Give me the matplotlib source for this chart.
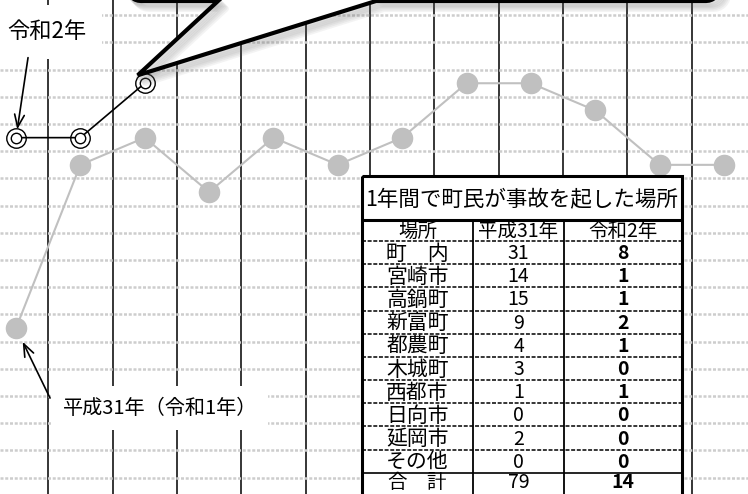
import numpy as np
import matplotlib
matplotlib.use('Agg')
import matplotlib.pyplot as plt
from matplotlib.patches import Polygon, Rectangle
from matplotlib.lines import Line2D
from matplotlib.transforms import IdentityTransform

plt.rcParams['font.family'] = ['Noto Sans CJK JP', 'DejaVu Sans']

# monthly accidents (chart)
months = ['1月', '2月', '3月', '4月', '5月', '6月', '7月', '8月', '9月', '10月', '11月', '12月']
heisei31 = [7, 13, 14, 12, 14, 13, 14, 16, 16, 15, 13, 13]
reiwa2 = [14, 14, 16]

# table: place of accidents caused by town residents
table_title = '1年間で町民が事故を起した場所'
table_head = ['場所', '平成31年', '令和2年']
places = ['町　内', '宮崎市', '高鍋町', '新富町', '都農町', '木城町', '西都市', '日向市', '延岡市', 'その他']
h31_counts = [31, 14, 15, 9, 4, 3, 1, 0, 2, 0]
r2_counts = [8, 1, 1, 2, 1, 0, 1, 0, 0, 0]

W, H = 748, 494
fig = plt.figure(figsize=(W/100, H/100), dpi=100)
ax = fig.add_axes([0, 0, 1, 1])
x = np.arange(len(months))

ax.set_xlim(-0.249, 11.373)
ax.set_ylim(0.90, 19.06)
ax.set_xticks(np.arange(0.5, len(months) - 1, 1))
ax.set_yticks(np.arange(1.5, 19, 1))
ax.tick_params(length=0, labelleft=False, labelbottom=False)
for s in ax.spines.values():
    s.set_visible(False)
ax.set_axisbelow(True)
ax.grid(axis='x', color='black', lw=1.1)
ax.grid(axis='y', color='#cdcdcd', lw=1.8, ls=(0, (1.2, 0.7)))

ax.plot(x, heisei31, color='#c0c0c0', lw=1.5, marker='o', ms=14.5,
        mfc='#c0c0c0', mec='#c0c0c0', zorder=4)
ax.plot(x[:len(reiwa2)], reiwa2, color='black', lw=1.2, marker='o', ms=14,
        mfc='none', mec='black', mew=1.0, zorder=4)
ax.plot(x[:len(reiwa2)], reiwa2, ls='none', marker='o', ms=7.5,
        mfc='white', mec='black', mew=1.0, zorder=4)

# labels with arrows
ax.annotate('令和2年', xy=(0, reiwa2[0]), xytext=(31, 106), textcoords='offset pixels',
            ha='center', va='center', fontsize=16,
            bbox=dict(boxstyle='square,pad=0.7', fc='white', ec='none'), zorder=3)
ax.annotate('', xy=(0, reiwa2[0]), xytext=(12, 80), textcoords='offset pixels',
            arrowprops=dict(arrowstyle='->,head_length=0.9,head_width=0.35', lw=1.2,
                            color='black', shrinkA=0, shrinkB=6), zorder=5)
ax.annotate('平成31年（令和1年）', xy=(0, heisei31[0]), xytext=(144, -80), textcoords='offset pixels',
            ha='center', va='center', fontsize=14.5,
            bbox=dict(boxstyle='square,pad=0.55', fc='white', ec='none'), zorder=3)
ax.annotate('', xy=(0, heisei31[0]), xytext=(34, -70), textcoords='offset pixels',
            arrowprops=dict(arrowstyle='->,head_length=0.9,head_width=0.35', lw=1.2,
                            color='black', shrinkA=0, shrinkB=11), zorder=5)

# speech bubble (bottom part), tail pointing at the last Reiwa 2 point
tx, ty = ax.transData.transform((x[len(reiwa2) - 1], reiwa2[-1]))
tx, ty = tx - 7, ty + 8
L, R, B, T, r = 127, 720, H - 1, H + 40, 14
a1 = np.linspace(np.pi, 1.5*np.pi, 8)
a2 = np.linspace(1.5*np.pi, 2*np.pi, 8)
xs = ([L] + list(L + r + r*np.cos(a1)) + [218, tx, 376] +
      list(R - r + r*np.cos(a2)) + [R])
ys = ([T] + list(B + r + r*np.sin(a1)) + [B, ty, B] +
      list(B + r + r*np.sin(a2)) + [T])
xs, ys = np.array(xs), np.array(ys)
ax.add_patch(Polygon(np.column_stack([xs, ys]), closed=True, fc='white', ec='none',
                     transform=IdentityTransform(), zorder=6))
for k in range(1, 7):
    ax.add_line(Line2D(xs + 1.3*k, ys - 1.3*k, color='#606060', alpha=0.07, lw=4.5,
                       transform=IdentityTransform(), zorder=6.5))
ax.add_line(Line2D(xs, ys, color='black', lw=3.0, solid_joinstyle='miter',
                   transform=IdentityTransform(), zorder=7))

# table
tax = fig.add_axes([362/W, (H - 496)/H, 320/W, 320/H], zorder=2)
tax.set_xlim(0, 320)
tax.set_ylim(320, 0)
tax.set_axis_off()
tax.add_patch(Rectangle((0, 0), 320, 320, fc='white', ec='none'))
col_edges = [0, 111, 202, 320]
title_h, head_h = 44, 21
rows = places + ['合　計']
h_vals = h31_counts + [sum(h31_counts)]
r_vals = r2_counts + [sum(r2_counts)]
row_h = (320 - title_h - head_h) / len(rows)

tax.text(160, title_h/2 + 1, table_title, ha='center', va='center', fontsize=15.5)
tax.plot([0, 320], [title_h, title_h], color='black', lw=2.2)
for c in col_edges[1:-1]:
    tax.plot([c, c], [title_h, 320], color='black', lw=1.3)
centers = [(col_edges[i] + col_edges[i+1]) / 2 for i in range(3)]
for i, h in enumerate(table_head):
    tax.text(centers[i], title_h + head_h/2 + 1, h, ha='center', va='center', fontsize=14)
for j in range(len(rows)):
    y0 = title_h + head_h + j*row_h
    if j == len(rows) - 1:
        tax.plot([0, 320], [y0, y0], color='black', lw=1.2)
        yc = y0 + row_h/2 - 2
        fs = 14
    else:
        tax.plot([0, 320], [y0, y0], color='black', lw=1.1, ls=(0, (2.6, 1.1)))
        yc = y0 + row_h/2 + 1
        fs = 15
    tax.text(centers[0], yc, rows[j], ha='center', va='center', fontsize=fs)
    tax.text(centers[1], yc, str(h_vals[j]), ha='center', va='center', fontsize=14)
    tax.text(centers[2], yc, str(r_vals[j]), ha='center', va='center', fontsize=14,
             fontweight='bold')
tax.add_patch(Rectangle((0, 0), 320, 320, fill=False, ec='black', lw=2.2, clip_on=False))

fig.savefig('out.png', dpi=100)
